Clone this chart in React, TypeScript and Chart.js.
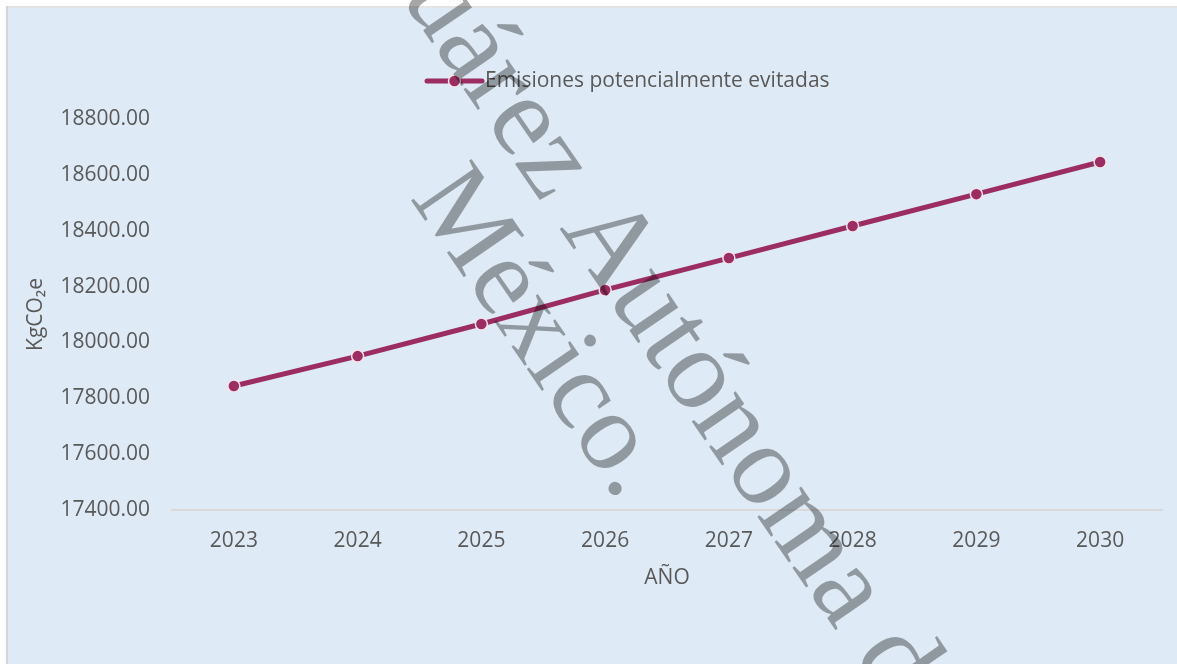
import React, { useEffect, useRef } from "react";
import { Chart, registerables } from "chart.js";

Chart.register(...registerables);

// ---- data ----
const years: string[] = ["2023", "2024", "2025", "2026", "2027", "2028", "2029", "2030"];
const emisiones: number[] = [17844, 17951, 18066, 18188, 18302, 18417, 18531, 18646];
const yTickValues: number[] = [17400, 17600, 17800, 18000, 18200, 18400, 18600, 18800];
const seriesLabel = "Emisiones potencialmente evitadas";
const xTitle = "AÑO";
const yTitle = "KgCO₂e";
const watermarkLine1 = "Juárez Autónoma de";
const watermarkLine2 = "México.";

const FONT = '"Open Sans", "Noto Sans", sans-serif';
const TEXT = "#595959";
const LINE = "#9B2D62";
const BG = "#DEEAF6";

const backgroundPlugin = {
  id: "bgPanel",
  beforeDraw(chart: any) {
    const { ctx, width, height } = chart;
    ctx.save();
    ctx.fillStyle = "#ffffff";
    ctx.fillRect(0, 0, width, height);
    ctx.fillStyle = "#e3e3e3";
    ctx.fillRect(6, 6, width - 6, 2);
    ctx.fillStyle = "#d6d6d6";
    ctx.fillRect(6, 6, 2, height - 6);
    ctx.fillStyle = BG;
    ctx.fillRect(8, 8, width - 8, height - 8);
    ctx.restore();
  },
};

const legendPlugin = {
  id: "lineLegend",
  afterDraw(chart: any) {
    const { ctx } = chart;
    const ds = chart.data.datasets[0];
    const y = 81;
    const x0 = 427;
    const x1 = 482;
    ctx.save();
    ctx.strokeStyle = ds.borderColor;
    ctx.lineWidth = 5;
    ctx.lineCap = "round";
    ctx.beginPath();
    ctx.moveTo(x0, y);
    ctx.lineTo(x1, y);
    ctx.stroke();
    ctx.beginPath();
    ctx.arc((x0 + x1) / 2, y, 6, 0, Math.PI * 2);
    ctx.fillStyle = ds.pointBackgroundColor;
    ctx.fill();
    ctx.lineWidth = 1.5;
    ctx.strokeStyle = ds.pointBorderColor;
    ctx.stroke();
    ctx.font = `21px ${FONT}`;
    ctx.fillStyle = TEXT;
    ctx.textBaseline = "middle";
    ctx.textAlign = "left";
    ctx.fillText(ds.label, x1 + 3, y);
    ctx.restore();
  },
};

type Anchor = { prefix: string; ch: string; cx: number; cy: number; h: number };

const watermarkPlugin = {
  id: "watermark",
  afterDraw(chart: any) {
    const { ctx } = chart;
    const ang = (55.5 * Math.PI) / 180;
    const dx = Math.cos(ang), dy = Math.sin(ang);
    const ux = Math.sin(ang), uy = -Math.cos(ang);
    ctx.save();
    ctx.fillStyle = "rgba(0,0,0,0.35)";
    ctx.textBaseline = "alphabetic";
    ctx.textAlign = "left";
    const draw = (text: string, fs: number, anchors: Anchor[]) => {
      ctx.font = `${fs}px "Liberation Serif", "DejaVu Serif", serif`;
      let sx = 0, sy = 0;
      anchors.forEach((a) => {
        const along = ctx.measureText(a.prefix).width + ctx.measureText(a.ch).width / 2;
        sx += a.cx - along * dx - a.h * fs * ux;
        sy += a.cy - along * dy - a.h * fs * uy;
      });
      const ox = sx / anchors.length;
      const oy = sy / anchors.length;
      ctx.save();
      ctx.translate(ox, oy);
      ctx.rotate(ang);
      ctx.fillText(text, 0, 0);
      ctx.restore();
    };
    draw(watermarkLine1, 116, [
      { prefix: "Ju", ch: "á", cx: 473, cy: 45, h: 0.34 },
      { prefix: "Juárez Autónom", ch: "a", cx: 851, cy: 594, h: 0.23 },
    ]);
    draw(watermarkLine2, 112, [
      { prefix: "", ch: "M", cx: 467, cy: 220, h: 0.33 },
      { prefix: "Méxic", ch: "o", cx: 608, cy: 445, h: 0.23 },
      { prefix: "México", ch: ".", cx: 617, cy: 483, h: 0.05 },
    ]);
    ctx.restore();
  },
};

export default function App() {
  const ref = useRef<HTMLCanvasElement | null>(null);
  useEffect(() => {
    if (!ref.current) return;
    const chart = new Chart(ref.current, {
      type: "line",
      data: {
        labels: years,
        datasets: [
          {
            label: seriesLabel,
            data: emisiones,
            borderColor: LINE,
            backgroundColor: LINE,
            borderWidth: 5,
            pointRadius: 6,
            pointHoverRadius: 6,
            pointBackgroundColor: LINE,
            pointBorderColor: "#f5e3ea",
            pointBorderWidth: 1.5,
            tension: 0,
            clip: false as any,
          } as any,
        ],
      },
      options: {
        responsive: false,
        animation: false,
        events: [],
        layout: { padding: { left: 23, right: 15, top: 119, bottom: 73 } },
        plugins: {
          legend: { display: false },
          tooltip: { enabled: false },
        },
        scales: {
          x: {
            type: "category",
            offset: true,
            grid: { display: false, drawTicks: false },
            border: { display: true, color: "#d9d9d9", width: 2 },
            ticks: { color: TEXT, font: { family: FONT, size: 21 }, padding: 18, maxRotation: 0 },
            title: {
              display: true,
              text: xTitle,
              color: TEXT,
              font: { family: FONT, size: 21 },
              padding: { top: 0, bottom: 0 },
            },
            afterFit: (s: any) => {
              s.height = 81;
            },
          },
          y: {
            min: 17400,
            max: 18800,
            grid: { display: false, drawTicks: false },
            border: { display: false },
            afterBuildTicks: (s: any) => {
              s.ticks = yTickValues.map((v) => ({ value: v }));
            },
            ticks: {
              color: TEXT,
              font: { family: FONT, size: 21 },
              padding: 22,
              callback: (v: any) => Number(v).toFixed(2),
            },
            title: {
              display: true,
              text: yTitle,
              color: TEXT,
              font: { family: FONT, size: 21 },
              padding: { top: 0, bottom: 0 },
            },
            afterFit: (s: any) => {
              s.width = 149;
            },
          },
        },
      },
      plugins: [backgroundPlugin, legendPlugin, watermarkPlugin],
    } as any);
    return () => chart.destroy();
  }, []);
  return (
    <div style={{ position: "fixed", left: 0, top: 0, width: 1177, height: 664 }}>
      <canvas ref={ref} width={1177} height={664} style={{ display: "block", width: 1177, height: 664 }} />
    </div>
  );
}
